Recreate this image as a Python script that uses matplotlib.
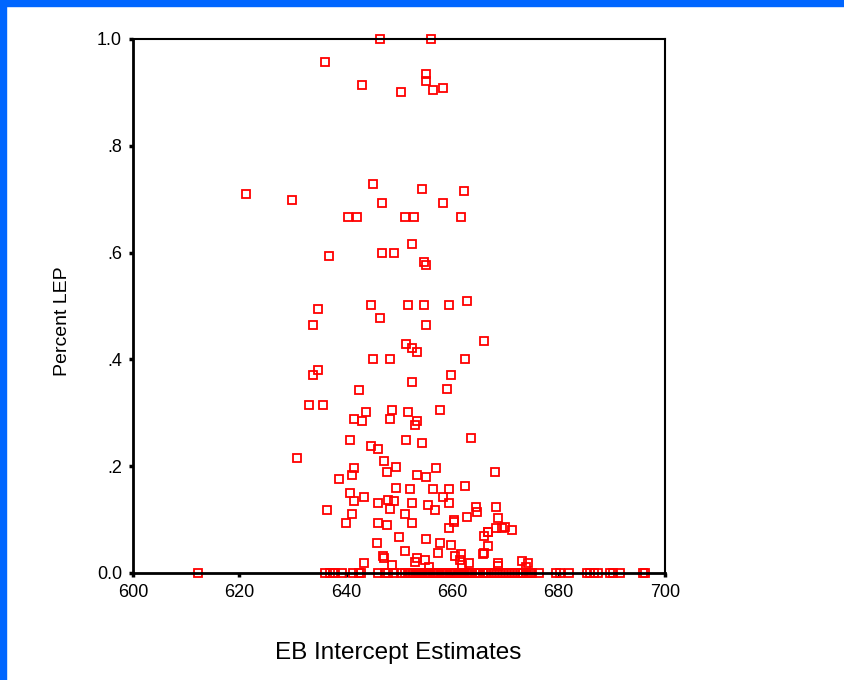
"""Scatter of percent LEP against EB intercept estimates."""

import matplotlib.pyplot as plt
from matplotlib.patches import Rectangle

plt.rcParams["font.family"] = ["Liberation Sans", "DejaVu Sans"]

# schools with a non-zero share of LEP students
eb_nonzero = [
    646.4, 656.0, 636.1, 643.0, 655.1, 655.1, 650.4, 656.4, 658.3,
    621.2, 629.9, 645.1, 646.8, 654.3, 662.2, 658.3, 640.4, 642.1,
    651.1, 652.8, 661.7, 652.4, 636.8, 646.8, 649.1, 654.7, 655.1,
    634.8, 633.8, 644.8, 646.4, 651.7, 654.7, 659.4, 662.7, 655.0,
    666.0, 651.3, 652.4, 653.4, 645.1, 648.4, 662.4, 634.8, 633.8,
    659.7, 652.4, 642.4, 659.0, 633.1, 635.8, 643.8, 641.5, 643.1,
    648.7, 648.4, 651.7, 657.7, 653.4, 653.0,
    640.8, 651.4, 663.6, 644.7, 646.1, 654.4, 630.9, 647.1, 649.4,
    647.7, 641.5, 641.1, 638.8, 653.4, 655.0, 657.0, 668.0, 640.8,
    649.4, 652.1, 656.4, 659.4, 662.4, 658.3, 643.4, 641.5, 648.0,
    649.1, 648.4, 646.1, 652.4, 655.4, 656.7, 659.4, 664.4, 664.7,
    668.3, 636.5, 641.1, 651.1, 668.7, 660.4, 662.7,
    640.1, 646.1, 647.7, 652.4, 659.4, 660.3, 666.0, 666.7, 645.8,
    650.0, 655.0, 657.8, 659.8, 666.7, 651.1, 657.4, 646.9, 647.1,
    661.7, 666.0, 660.6, 653.3, 654.8, 653.0, 648.7, 643.5, 655.7,
    661.4, 663.1, 661.8,
    668.2, 669.4, 670.0, 671.3, 666.8, 665.8, 668.7, 668.7, 673.2,
    674.2, 673.8,
]
pct_nonzero = [
    1.000, 1.000, 0.957, 0.914, 0.934, 0.921, 0.901, 0.904, 0.908,
    0.710, 0.699, 0.728, 0.693, 0.719, 0.715, 0.693, 0.667, 0.667,
    0.667, 0.667, 0.667, 0.616, 0.594, 0.599, 0.599, 0.582, 0.577,
    0.494, 0.464, 0.501, 0.477, 0.501, 0.501, 0.501, 0.510, 0.464,
    0.434, 0.429, 0.421, 0.414, 0.401, 0.401, 0.401, 0.381, 0.371,
    0.371, 0.358, 0.342, 0.345, 0.315, 0.315, 0.302, 0.289, 0.285,
    0.306, 0.289, 0.302, 0.305, 0.285, 0.278,
    0.249, 0.249, 0.252, 0.238, 0.232, 0.243, 0.216, 0.209, 0.199,
    0.190, 0.196, 0.183, 0.176, 0.183, 0.179, 0.196, 0.190, 0.150,
    0.160, 0.157, 0.157, 0.157, 0.163, 0.143, 0.143, 0.134, 0.137,
    0.134, 0.120, 0.131, 0.131, 0.127, 0.117, 0.131, 0.124, 0.114,
    0.124, 0.117, 0.110, 0.110, 0.102, 0.099, 0.105,
    0.093, 0.093, 0.090, 0.093, 0.084, 0.096, 0.070, 0.077, 0.057,
    0.067, 0.064, 0.057, 0.053, 0.051, 0.041, 0.037, 0.031, 0.028,
    0.036, 0.037, 0.031, 0.028, 0.024, 0.021, 0.015, 0.018, 0.012,
    0.024, 0.018, 0.015,
    0.084, 0.084, 0.086, 0.080, 0.077, 0.035, 0.019, 0.013, 0.022,
    0.018, 0.012,
]

# schools with no LEP students
eb_zero = [
    612.2, 636.1, 637.0, 637.5, 638.0, 639.2, 641.3, 642.4, 642.8,
    646.1, 647.3, 648.0, 649.0, 650.4, 651.2, 651.6, 652.0, 652.3,
    652.7, 653.1, 653.4, 653.8, 654.1, 654.5, 654.8, 655.2, 655.5,
    655.9, 656.3, 656.6, 657.0, 657.3, 657.7, 658.0, 658.4, 658.8,
    659.1, 659.5, 659.8, 660.2, 660.6, 660.9, 661.3, 661.6, 662.0,
    662.4, 662.7, 663.1, 663.4, 663.8, 664.2, 664.5, 664.9, 665.3,
    665.7, 666.0, 666.4, 666.8, 667.3, 667.8, 668.4, 668.9, 669.5,
    670.1, 670.6, 671.2, 671.8, 672.3, 672.9, 673.4, 673.9, 674.3,
    674.7, 675.0, 676.3, 679.6, 680.3, 682.0, 685.3, 685.9, 686.6,
    687.5, 689.7, 690.3, 691.5, 695.9, 696.2,
]
pct_zero = [0.0] * len(eb_zero)

x_ticks = [600, 620, 640, 660, 680, 700]
y_ticks = [0.0, 0.2, 0.4, 0.6, 0.8, 1.0]
y_labels = ["0.0", ".2", ".4", ".6", ".8", "1.0"]

fig = plt.figure(figsize=(8.44, 6.8), dpi=100)
ax = fig.add_axes([0.1576, 0.1574, 0.6303, 0.7853])

for xs, ys in [(eb_nonzero, pct_nonzero), (eb_zero, pct_zero)]:
    ax.plot(xs, ys, linestyle="none", marker="s", markersize=6.2,
            markerfacecolor="none", markeredgecolor="#ff0000",
            markeredgewidth=1.3, clip_on=False, zorder=2)

ax.set_xlim(600, 700)
ax.set_ylim(0, 1)
ax.set_xticks(x_ticks)
ax.set_xticklabels([str(t) for t in x_ticks])
ax.set_yticks(y_ticks)
ax.set_yticklabels(y_labels)
ax.tick_params(direction="out", length=3, width=2.5, color="black",
               labelsize=13, pad=5)

for side in ["left", "bottom"]:
    ax.spines[side].set_linewidth(2)
for side in ["top", "right"]:
    ax.spines[side].set_linewidth(1.5)
for sp in ax.spines.values():
    sp.set_zorder(3)

fig.text(0.4716, 0.040, "EB Intercept Estimates", ha="center",
         va="center", fontsize=17.5)
fig.text(0.0746, 0.527, "Percent LEP", ha="center", va="center",
         rotation=90, fontsize=14)

# blue frame along the top and left edges
fig.patches.append(Rectangle((0, 0.991), 1, 0.009, transform=fig.transFigure,
                             color="#0066ff", zorder=0))
fig.patches.append(Rectangle((0, 0), 0.0071, 1, transform=fig.transFigure,
                             color="#0066ff", zorder=0))

fig.savefig("out.png", dpi=100, facecolor="white")
